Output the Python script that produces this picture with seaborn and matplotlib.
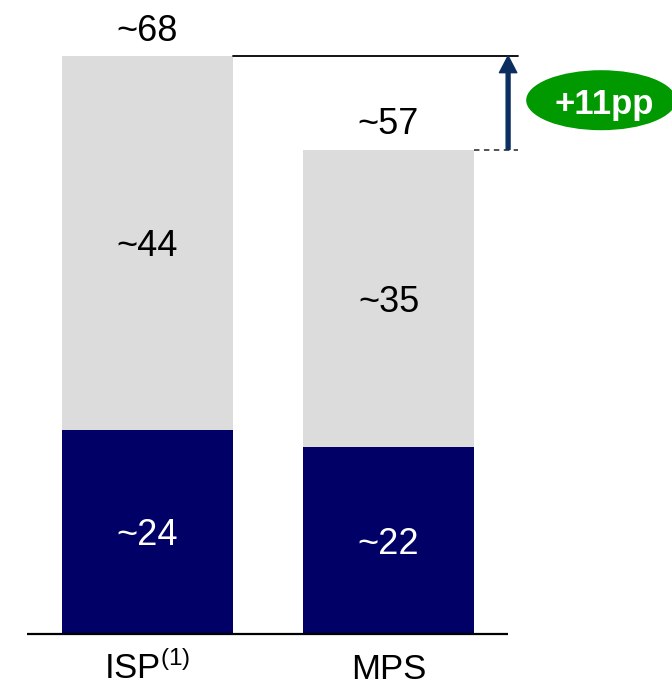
import matplotlib
matplotlib.use("Agg")
import matplotlib.pyplot as plt
from matplotlib.patches import Ellipse
import seaborn as sns
import pandas as pd

# Data
categories = ["ISP", "MPS"]
tick_labels = ["ISP$^{(1)}$", "MPS"]
base_values = [24, 22]      # dark lower segment
upper_values = [44, 35]     # light upper segment
totals = [b + u for b, u in zip(base_values, upper_values)]

NAVY = "#000066"
LIGHT = "#DCDCDC"
ARROW = "#0B2E5E"
GREEN = "#009900"

sns.set_theme(style="white")
plt.rcParams["font.family"] = ["Liberation Sans", "DejaVu Sans"]
plt.rcParams["mathtext.fontset"] = "custom"
plt.rcParams["mathtext.rm"] = "Liberation Sans"
plt.rcParams["mathtext.it"] = "Liberation Sans"

df = pd.DataFrame({"category": categories, "base": base_values,
                   "upper": upper_values, "total": totals})

fig = plt.figure(figsize=(6.72, 6.86), dpi=100)
ax = fig.add_axes([0, 0, 1, 1])

bw = 0.71
sns.barplot(data=df, x="category", y="total", order=categories,
            color=LIGHT, width=bw, linewidth=0, saturation=1, ax=ax)
sns.barplot(data=df, x="category", y="base", order=categories,
            color=NAVY, width=bw, linewidth=0, saturation=1, ax=ax)

ax.set_xlim(-0.612, 2.176)
ax.set_ylim(-6.12, 74.59)
ax.axis("off")

fs = 26
dy = -0.45  # drop labels so the digits sit on the segment centre
for i in range(len(categories)):
    ax.text(i, base_values[i] / 2 + dy, f"~{base_values[i]}", ha="center",
            va="center", color="white", fontsize=fs)
    ax.text(i, base_values[i] + upper_values[i] / 2 + dy, f"~{upper_values[i]}",
            ha="center", va="center", color="black", fontsize=fs)
    ax.text(i, totals[i] + 2.9, f"~{totals[i]}", ha="center", va="center",
            color="black", fontsize=fs)
    ax.text(i, -5.35, tick_labels[i], ha="center", va="baseline",
            color="black", fontsize=25)

# baseline
ax.plot([-0.5, 1.496], [0, 0], color="black", lw=1.6, solid_capstyle="butt")

# difference bracket
x_end = 1.537
ax.plot([bw / 2, x_end], [totals[0], totals[0]], color="black", lw=1.3)
ax.plot([1 + bw / 2, x_end], [totals[1], totals[1]], color="#444444", lw=1.3,
        ls=(0, (3, 2.5)))
ax.annotate("", xy=(1.496, totals[0]), xytext=(1.496, totals[1]),
            arrowprops=dict(facecolor=ARROW, edgecolor=ARROW, width=2.8,
                            headwidth=12.5, headlength=12, shrink=0))

diff = totals[0] - totals[1]
ell = Ellipse((1.882, 62.8), width=0.622, height=7.06, color=GREEN, lw=0)
ax.add_patch(ell)
ax.text(1.894, 62.35, f"+{diff}pp", ha="center", va="center", color="white",
        fontsize=25, fontweight="bold")

fig.savefig("out.png", dpi=100)
